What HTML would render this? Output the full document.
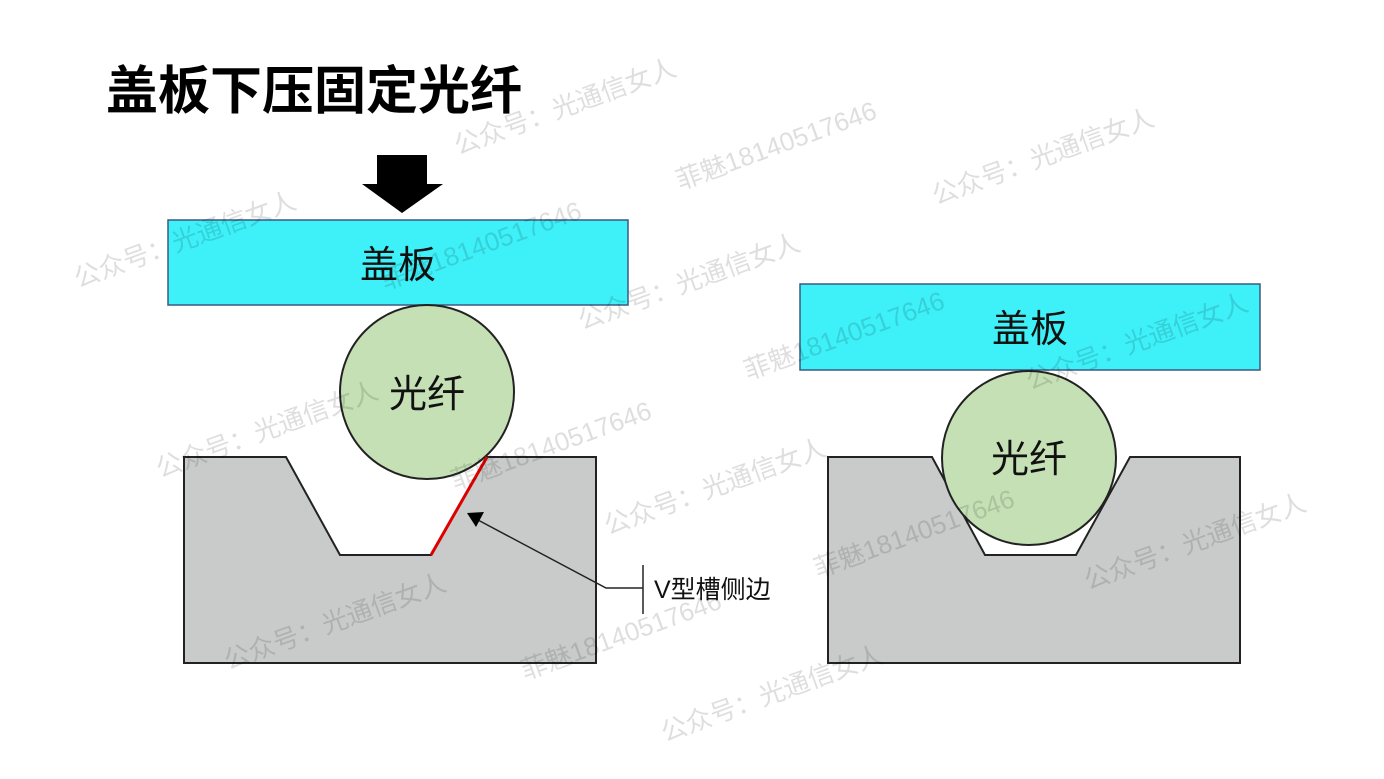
<!DOCTYPE html>
<html><head><meta charset="utf-8"><style>
body{margin:0;background:#fff;}
svg{display:block}
text{font-family:"Liberation Sans","Noto Sans CJK SC",sans-serif;}
</style></head><body>
<svg width="1384" height="779" viewBox="0 0 1384 779" xmlns="http://www.w3.org/2000/svg">
<text x="106" y="109" font-size="52" font-weight="bold" fill="#000">盖板下压固定光纤</text>
<polygon points="377,155 427,155 427,184 443,184 402,213 362,184 377,184" fill="#000"/>
<rect x="168" y="220" width="460" height="85" fill="#3ef0f8" stroke="#3a5a80" stroke-width="1.5"/>
<text x="398" y="278" font-size="38" text-anchor="middle" fill="#111">盖板</text>
<circle cx="427" cy="392" r="87" fill="#c5e0b4" stroke="#222" stroke-width="2"/>
<text x="427" y="407" font-size="38" text-anchor="middle" fill="#111">光纤</text>
<polygon points="184,457 286,457 340,555 431,555 487,457 596,457 596,663 184,663" fill="#c9cbcb" stroke="#222" stroke-width="2"/>
<line x1="431" y1="555" x2="487" y2="457" stroke="#d00" stroke-width="3"/>
<polyline points="643,588 606,588 478,520" fill="none" stroke="#222" stroke-width="1.5"/>
<polygon points="467,513 484,512 476,527" fill="#000"/>
<line x1="643" y1="565" x2="643" y2="614" stroke="#222" stroke-width="1.5"/>
<text x="654" y="598" font-size="25" fill="#111">V型槽侧边</text>
<rect x="800" y="284" width="460" height="86" fill="#3ef0f8" stroke="#3a5a80" stroke-width="1.5"/>
<text x="1030" y="342" font-size="38" text-anchor="middle" fill="#111">盖板</text>
<polygon points="828,457 932,457 985,555 1076,555 1130,457 1240,457 1240,663 828,663" fill="#c9cbcb" stroke="#222" stroke-width="2"/>
<circle cx="1029" cy="458" r="87" fill="#c5e0b4" stroke="#222" stroke-width="2"/>
<text x="1029" y="472" font-size="38" text-anchor="middle" fill="#111">光纤</text>
<g font-family="Liberation Serif,Noto Serif CJK SC,serif" font-size="26" fill="#000" fill-opacity="0.13">
<text transform="translate(458,155) rotate(-20)">公众号：光通信女人</text>
<text transform="translate(680,190) rotate(-20)">菲魅18140517646</text>
<text transform="translate(936,205) rotate(-20)">公众号：光通信女人</text>
<text transform="translate(78,288) rotate(-20)">公众号：光通信女人</text>
<text transform="translate(385,290) rotate(-20)">菲魅18140517646</text>
<text transform="translate(582,330) rotate(-20)">公众号：光通信女人</text>
<text transform="translate(748,380) rotate(-20)">菲魅18140517646</text>
<text transform="translate(1030,390) rotate(-20)">公众号：光通信女人</text>
<text transform="translate(160,478) rotate(-20)">公众号：光通信女人</text>
<text transform="translate(455,490) rotate(-20)">菲魅18140517646</text>
<text transform="translate(608,535) rotate(-20)">公众号：光通信女人</text>
<text transform="translate(818,578) rotate(-20)">菲魅18140517646</text>
<text transform="translate(1088,590) rotate(-20)">公众号：光通信女人</text>
<text transform="translate(228,670) rotate(-20)">公众号：光通信女人</text>
<text transform="translate(525,680) rotate(-20)">菲魅18140517646</text>
<text transform="translate(665,742) rotate(-20)">公众号：光通信女人</text>
</g>
</svg>
</body></html>
